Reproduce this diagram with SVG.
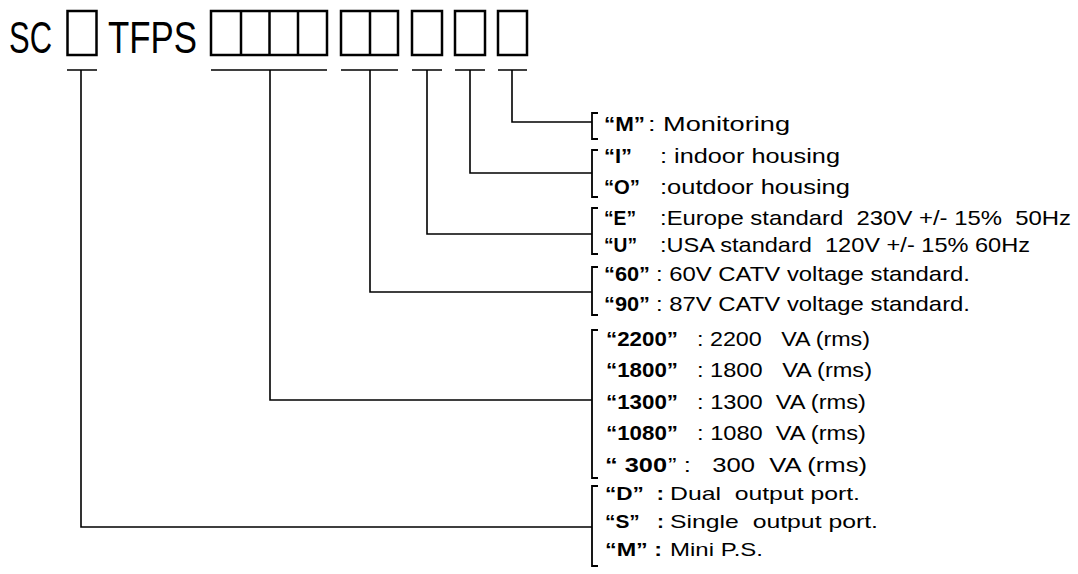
<svg xmlns="http://www.w3.org/2000/svg" width="1078" height="574" viewBox="0 0 1078 574" xml:space="preserve">
<style>
.box{fill:none;stroke:#000;stroke-width:2.5}
.ln{fill:none;stroke:#000;stroke-width:1.6}
.br{fill:none;stroke:#000;stroke-width:1.8}
text{font-family:"Liberation Sans",Arial,sans-serif;fill:#000;white-space:pre}
.t{font-size:21px}
.s{font-size:19px}
.b{font-weight:bold}
.title{font-size:44px}
</style>
<rect width="1078" height="574" fill="#fff"/>
<g id="title">
<text class="title" x="9" y="53" textLength="43" lengthAdjust="spacingAndGlyphs">SC</text>
<text class="title" x="108" y="53" textLength="89" lengthAdjust="spacingAndGlyphs">TFPS</text>
</g>
<g id="code-boxes">
<rect class="box" x="67.5" y="11" width="29" height="44"/>
<rect class="box" x="211" y="11" width="116" height="44"/>
<line class="box" x1="241" y1="11" x2="241" y2="55"/>
<line class="box" x1="269.5" y1="11" x2="269.5" y2="55"/>
<line class="box" x1="298" y1="11" x2="298" y2="55"/>
<rect class="box" x="341" y="11" width="57" height="44"/>
<line class="box" x1="370" y1="11" x2="370" y2="55"/>
<rect class="box" x="412" y="11" width="30" height="44"/>
<rect class="box" x="455" y="11" width="30" height="44"/>
<rect class="box" x="498" y="11" width="29" height="44"/>
</g>
<g id="connectors">
<path class="ln" d="M67,70H97M81,70V527H592"/>
<path class="ln" d="M211,70H327M270,70V400H592"/>
<path class="ln" d="M341,70H398M370,70V292H592"/>
<path class="ln" d="M412,70H442M427,70V234H592"/>
<path class="ln" d="M455,70H485M470,70V173H592"/>
<path class="ln" d="M498,70H527M512,70V122H592"/>
</g>
<g id="brackets">
<path class="br" d="M598,113H592V139H598"/>
<path class="br" d="M598,150H592V197H598"/>
<path class="br" d="M598,208H592V254H598"/>
<path class="br" d="M598,267H592V315H598"/>
<path class="br" d="M598,330H592V478H598"/>
<path class="br" d="M598,486H592V566H598"/>
</g>
<g id="opt-monitoring">
<text class="t b" x="604" y="131" textLength="41" lengthAdjust="spacingAndGlyphs">“M”</text>
<text class="t" x="648" y="131" textLength="142" lengthAdjust="spacingAndGlyphs">: Monitoring</text>
</g>
<g id="opt-housing">
<text class="t b" x="604" y="163" textLength="28" lengthAdjust="spacingAndGlyphs">“I”</text>
<text class="t" x="660" y="163" textLength="180" lengthAdjust="spacingAndGlyphs">: indoor housing</text>
<text class="t b" x="604" y="194" textLength="36" lengthAdjust="spacingAndGlyphs">“O”</text>
<text class="t" x="660" y="194" textLength="190" lengthAdjust="spacingAndGlyphs">:outdoor housing</text>
</g>
<g id="opt-standard">
<text class="t b" x="604" y="225" textLength="32" lengthAdjust="spacingAndGlyphs">“E”</text>
<text class="t" x="660" y="225" textLength="411" lengthAdjust="spacingAndGlyphs">:Europe standard  230V +/- 15%  50Hz</text>
<text class="t b" x="604" y="252" textLength="33" lengthAdjust="spacingAndGlyphs">“U”</text>
<text class="t" x="660" y="252" textLength="370" lengthAdjust="spacingAndGlyphs">:USA standard  120V +/- 15% 60Hz</text>
</g>
<g id="opt-catv">
<text class="t b" x="604" y="281" textLength="46" lengthAdjust="spacingAndGlyphs">“60”</text>
<text class="t" x="656" y="281" textLength="314" lengthAdjust="spacingAndGlyphs">: 60V CATV voltage standard.</text>
<text class="t b" x="604" y="311" textLength="46" lengthAdjust="spacingAndGlyphs">“90”</text>
<text class="t" x="656" y="311" textLength="314" lengthAdjust="spacingAndGlyphs">: 87V CATV voltage standard.</text>
</g>
<g id="opt-power">
<text class="t b" x="606" y="346" textLength="72" lengthAdjust="spacingAndGlyphs">“2200”</text>
<text class="t" x="697" y="346" textLength="173" lengthAdjust="spacingAndGlyphs">: 2200   VA (rms)</text>
<text class="t b" x="606" y="377" textLength="72" lengthAdjust="spacingAndGlyphs">“1800”</text>
<text class="t" x="697" y="377" textLength="175" lengthAdjust="spacingAndGlyphs">: 1800   VA (rms)</text>
<text class="t b" x="606" y="409" textLength="72" lengthAdjust="spacingAndGlyphs">“1300”</text>
<text class="t" x="697" y="409" textLength="169" lengthAdjust="spacingAndGlyphs">: 1300  VA (rms)</text>
<text class="t b" x="606" y="440" textLength="72" lengthAdjust="spacingAndGlyphs">“1080”</text>
<text class="t" x="697" y="440" textLength="169" lengthAdjust="spacingAndGlyphs">: 1080  VA (rms)</text>
<text class="t b" x="605" y="472" textLength="62" lengthAdjust="spacingAndGlyphs">“ 300</text>
<text class="t" x="668" y="472" textLength="199" lengthAdjust="spacingAndGlyphs">” :   300  VA (rms)</text>
</g>
<g id="opt-port">
<text class="s b" x="605" y="500" textLength="59" lengthAdjust="spacingAndGlyphs">“D”  :</text>
<text class="s" x="670" y="500" textLength="190" lengthAdjust="spacingAndGlyphs">Dual  output port.</text>
<text class="s b" x="605" y="528" textLength="59" lengthAdjust="spacingAndGlyphs">“S”   :</text>
<text class="s" x="670" y="528" textLength="208" lengthAdjust="spacingAndGlyphs">Single  output port.</text>
<text class="s b" x="605" y="556" textLength="57" lengthAdjust="spacingAndGlyphs">“M” :</text>
<text class="s" x="670" y="556" textLength="93" lengthAdjust="spacingAndGlyphs">Mini P.S.</text>
</g>
</svg>
